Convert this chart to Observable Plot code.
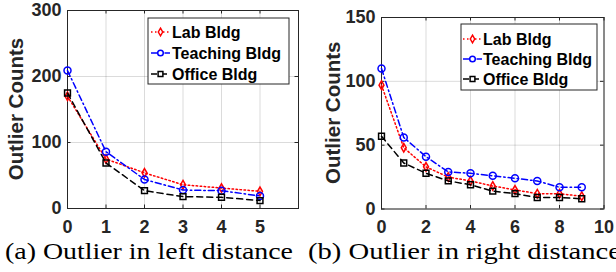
<!DOCTYPE html>
<html>
<head>
<meta charset="utf-8">
<script src="https://cdn.jsdelivr.net/npm/d3@7"></script>
<script src="https://cdn.jsdelivr.net/npm/@observablehq/plot@0.6"></script>
<style>
  html, body { margin: 0; padding: 0; background: #fff; }
  #root { position: relative; width: 616px; height: 272px; overflow: hidden; background: #fff; }
  .panel { position: absolute; top: 0; }
  #caps { position: absolute; left: 0; top: 0; }
</style>
</head>
<body>
<div id="root">
  <div class="panel" id="left" style="left:0px"></div>
  <div class="panel" id="right" style="left:308px"></div>
  <svg id="caps" width="616" height="272"></svg>
</div>
<script>
// ---- Data ----
const seriesNames = ["Lab Bldg", "Teaching Bldg", "Office Bldg"];

const leftX = [0, 1, 2, 3, 4, 5];
const leftLab = [170, 75, 54, 36, 31, 26];
const leftTeaching = [209, 86, 44, 28, 27, 19];
const leftOffice = [175, 69, 27, 18, 17, 12];
const leftXTicks = [0, 1, 2, 3, 4, 5];
const leftYTicks = [0, 100, 200, 300];

const rightX = [0, 1, 2, 3, 4, 5, 6, 7, 8, 9];
const rightLab = [97, 48, 33, 25, 22, 18, 15, 12, 12, 10];
const rightTeaching = [110, 56, 41, 29, 28, 26, 24, 22, 17, 17];
const rightOffice = [57, 36, 28, 22, 19, 14, 12, 9, 9, 8];
const rightXTicks = [0, 2, 4, 6, 8, 10];
const rightYTicks = [0, 50, 100, 150];

const yLabel = "Outlier Counts";
const captions = ["(a) Outlier in left distance", "(b) Outlier in right distance"];

// ---- Styles ----
const styles = {
  "Lab Bldg": { color: "#ff0000", dash: "1.5,2.5", symbol: "diamond", r: 2.6, lr: 2.3 },
  "Teaching Bldg": { color: "#0000ff", dash: "6,3,1.5,3", symbol: "circle", r: 3.5, lr: 2.8 },
  "Office Bldg": { color: "#000000", dash: "6,4", symbol: "square", r: 3.3, lr: 2.7 }
};
const TXT = "#262626";

function panel(opts) {
  const { xs, values, xDomain, xTicks, yDomain, yTicks, width, height, mt, mr, mb, ml, legend, ylab } = opts;
  const data = seriesNames.flatMap((name, k) => xs.map((x, i) => ({ x, y: values[k][i], name })));
  const plotW = width - ml - mr, plotH = height - mt - mb;
  const marks = [
    Plot.gridX(xTicks, { stroke: "#000", strokeOpacity: 0.14 }),
    Plot.gridY(yTicks, { stroke: "#000", strokeOpacity: 0.14 }),
    Plot.tickX(xTicks, { x: d => d, stroke: TXT, insetTop: plotH - 3.5 }),
    Plot.tickX(xTicks, { x: d => d, stroke: TXT, insetBottom: plotH - 3.5 }),
    Plot.tickY(yTicks, { y: d => d, stroke: TXT, insetRight: plotW - 3.5 }),
    Plot.tickY(yTicks, { y: d => d, stroke: TXT, insetLeft: plotW - 3.5 }),
    Plot.axisX(xTicks, { tickSize: 0, tickPadding: 11.5, fontSize: 18, fontWeight: "bold", fill: TXT }),
    Plot.axisY(yTicks, { tickSize: 0, tickPadding: 6, fontSize: 18, fontWeight: "bold", fill: TXT }),
    Plot.frame({ stroke: TXT, strokeWidth: 1 })
  ];
  for (const name of seriesNames) {
    const s = styles[name];
    const d = data.filter(v => v.name === name);
    marks.push(Plot.line(d, { x: "x", y: "y", stroke: s.color, strokeWidth: 1.5, strokeDasharray: s.dash }));
    marks.push(Plot.dot(d, { x: "x", y: "y", symbol: s.symbol, r: s.r, stroke: s.color, fill: "none", strokeWidth: 1.5 }));
  }
  const plot = Plot.plot({
    width, height,
    marginTop: mt, marginRight: mr, marginBottom: mb, marginLeft: ml,
    style: { fontFamily: "'Liberation Sans', Arial, sans-serif", background: "transparent", overflow: "visible" },
    x: { domain: xDomain, label: null },
    y: { domain: yDomain, label: null },
    marks
  });
  const svg = d3.select(plot);
  // y label
  svg.append("text")
    .attr("transform", `translate(${ylab.x},${mt + plotH / 2}) rotate(-90)`)
    .attr("text-anchor", "middle")
    .attr("font-family", "'Liberation Sans', Arial, sans-serif")
    .attr("font-weight", "bold").attr("font-size", 20.5).attr("fill", TXT)
    .text(yLabel);
  // legend
  const g = svg.append("g").attr("text-anchor", "start");
  g.append("rect").attr("x", legend.x).attr("y", legend.y).attr("width", legend.w).attr("height", legend.h)
    .attr("fill", "#fff").attr("stroke", TXT).attr("stroke-width", 1);
  const symMap = { diamond: d3.symbolDiamond, circle: d3.symbolCircle, square: d3.symbolSquare };
  seriesNames.forEach((name, k) => {
    const s = styles[name];
    const yy = legend.rows[k];
    g.append("line").attr("x1", legend.l1).attr("x2", legend.l2).attr("y1", yy).attr("y2", yy)
      .attr("stroke", s.color).attr("stroke-width", 1.5).attr("stroke-dasharray", s.dash);
    g.append("path").attr("d", d3.symbol(symMap[s.symbol], Math.PI * s.lr * s.lr)())
      .attr("transform", `translate(${(legend.l1 + legend.l2) / 2},${yy})`)
      .attr("fill", "#fff").attr("stroke", s.color).attr("stroke-width", 1.5);
    g.append("text").attr("x", legend.tx).attr("y", yy).attr("dy", "0.36em")
      .attr("text-anchor", "start")
      .attr("font-family", "'Liberation Sans', Arial, sans-serif")
      .attr("font-weight", "bold").attr("font-size", 16).attr("fill", "#000")
      .text(name);
  });
  return plot;
}

document.getElementById("left").appendChild(panel({
  xs: leftX, values: [leftLab, leftTeaching, leftOffice],
  xDomain: [0, 6], xTicks: leftXTicks, yDomain: [0, 300], yTicks: leftYTicks,
  width: 308, height: 240, mt: 10, mr: 10, mb: 32, ml: 67,
  ylab: { x: 23 },
  legend: { x: 148, y: 18, w: 141, h: 66, rows: [32, 53, 74], l1: 151, l2: 170, tx: 172 }
}));

document.getElementById("right").appendChild(panel({
  xs: rightX, values: [rightLab, rightTeaching, rightOffice],
  xDomain: [0, 10], xTicks: rightXTicks, yDomain: [0, 150], yTicks: rightYTicks,
  width: 308, height: 240, mt: 17, mr: 12.5, mb: 31.5, ml: 73,
  ylab: { x: 32 },
  legend: { x: 153, y: 24, w: 136, h: 66, rows: [39, 59, 79], l1: 155, l2: 174, tx: 175 }
}));

// captions
const caps = d3.select("#caps");
[[5, 288], [308, 313]].forEach(([x, w], i) => {
  caps.append("text").attr("x", x).attr("y", 259)
    .attr("font-family", "'Liberation Serif', 'DejaVu Serif', serif")
    .attr("font-size", 23).attr("fill", "#000")
    .attr("textLength", w).attr("lengthAdjust", "spacingAndGlyphs")
    .text(captions[i]);
});
</script>
</body>
</html>
